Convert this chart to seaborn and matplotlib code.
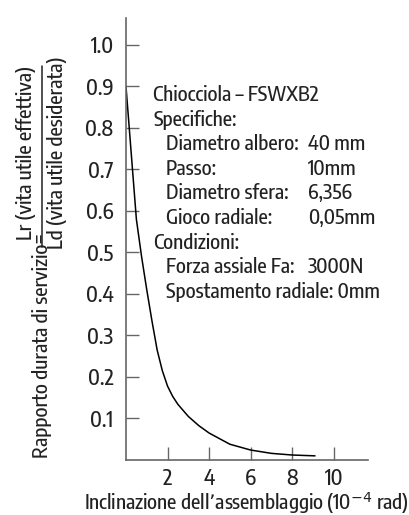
import numpy as np
import pandas as pd
import seaborn as sns
import matplotlib.pyplot as plt
from matplotlib import font_manager, ft2font
from matplotlib.font_manager import FontProperties
from matplotlib.textpath import TextPath
from matplotlib.lines import Line2D

# Curve (inclination in 1e-4 rad, life ratio)
inclination = [0, 0.25, 0.5, 0.75, 1.0, 1.25, 1.5, 1.75, 2.0, 2.25, 2.5, 3.0,
               3.5, 4.0, 5.0, 6.0, 7.0, 8.0, 9.1]
life_ratio = [0.9, 0.74, 0.58, 0.49, 0.41, 0.335, 0.265, 0.215, 0.178, 0.153,
              0.134, 0.105, 0.083, 0.065, 0.038, 0.024, 0.016, 0.012, 0.01]

x_ticks = [2, 4, 6, 8, 10]
y_ticks = [0.1, 0.2, 0.3, 0.4, 0.5, 0.6, 0.7, 0.8, 0.9, 1.0]

# Spec block: (text, value, indented)
spec_labels = ["Chiocciola – FSWXB2", "Specifiche:", "Diametro albero:", "Passo:",
               "Diametro sfera:", "Gioco radiale:", "Condizioni:",
               "Forza assiale Fa:", "Spostamento radiale: 0mm"]
spec_values = ["", "", "40 mm", "10mm", "6,356", "0,05mm", "", "3000N", ""]
spec_indent = [False, False, True, True, True, True, False, True, True]

sns.set_style("ticks")


def wnum(w):
    return w if isinstance(w, int) else font_manager.weight_dict.get(w, 400)


def shape(fname):
    # width of the title line over cap height, at a big size
    fp = FontProperties(fname=fname)
    w = TextPath((0, 0), "Chiocciola – FSWXB2", size=100, prop=fp).get_extents().width
    h = TextPath((0, 0), "H", size=100, prop=fp).get_extents().height
    return w / h, h / 100


# the reference uses a condensed, medium weight face: pick the closest installed one
TARGET = 10.8
cands = [f for f in font_manager.fontManager.ttflist
         if f.stretch == "condensed" and f.style == "normal"
         and 300 <= wnum(f.weight) <= 700 and "CJK" not in f.name]
best, best_score, cap_ratio = None, 1e9, 0.72
for f in cands[:40]:
    try:
        ratio, cap = shape(f.fname)
    except Exception:
        continue
    score = abs(ratio - TARGET) / TARGET + abs(wnum(f.weight) - 500) / 600
    if score < best_score:
        best, best_score, cap_ratio = f, score, cap

if best is not None:
    FP = FontProperties(fname=best.fname)
    fam = best.name
else:
    FP = FontProperties(family="Roboto")
    fam = "Roboto"
plt.rcParams["font.family"] = [fam, "DejaVu Sans"]
plt.rcParams["mathtext.fontset"] = "custom"
plt.rcParams["mathtext.rm"] = fam
plt.rcParams["mathtext.default"] = "rm"

TXT = "#222222"
AXC = "#666666"
W, H = 409, 515
# size so that capitals stand about 15 px tall
FS = 15 / cap_ratio * 0.72

has_sup = False
if best is not None:
    face = ft2font.FT2Font(best.fname)
    has_sup = face.get_char_index(ord("⁴")) and face.get_char_index(ord("⁻"))
xlabel = "Inclinazione dell’assemblaggio (10⁻⁴ rad)" if has_sup else \
    "Inclinazione dell’assemblaggio (10$^{-4}$ rad)"


def px(x, y):
    return x / W, 1 - y / H


def font(size):
    p = FP.copy()
    p.set_size(size)
    return p


fig = plt.figure(figsize=(W / 100, H / 100), dpi=100)
ax = fig.add_axes([126 / W, 55 / H, 242 / W, 442 / H])

df = pd.DataFrame({"incl": inclination, "ratio": life_ratio})
sns.lineplot(data=df, x="incl", y="ratio", color="black", linewidth=1.1, ax=ax)

ax.set_xlim(0, 11.65)
ax.set_ylim(0, 1.065)
ax.set_xticks(x_ticks)
ax.set_yticks(y_ticks)
ax.set_xticklabels([str(t) for t in x_ticks], fontproperties=font(FS * 1.05))
ax.set_yticklabels([f"{t:.1f}" for t in y_ticks], fontproperties=font(FS * 1.05))
ax.tick_params(direction="in", length=9.5, width=1, color=AXC, labelcolor=TXT)
ax.tick_params(axis="x", pad=6)
ax.tick_params(axis="y", pad=9)
sns.despine(ax=ax)
for s in ("left", "bottom"):
    ax.spines[s].set_color(AXC)
    ax.spines[s].set_linewidth(1.2)
ax.set_xlabel(xlabel, fontproperties=font(FS), color=TXT, labelpad=0)
ax.set_ylabel("")

# Composite y label: text + fraction
fig.text(*px(42, 458), "Rapporto durata di servizio=", rotation=90,
         ha="center", va="bottom", fontproperties=font(FS), color=TXT)
fig.text(*px(26, 153), "Lr (vita utile effettiva)", rotation=90,
         ha="center", va="center", fontproperties=font(FS), color=TXT)
fig.text(*px(57, 153), "Ld (vita utile desiderata)", rotation=90,
         ha="center", va="center", fontproperties=font(FS), color=TXT)
x0, y0 = px(42, 247)
x1, y1 = px(42, 66)
fig.add_artist(Line2D([x0, x1], [y0, y1], color=TXT, linewidth=1.1))

# Spec block
top, step = 95, 24.6
for i, (lab, val, ind) in enumerate(zip(spec_labels, spec_values, spec_indent)):
    y = top + i * step
    fig.text(*px(166 if ind else 153, y), lab, ha="left", va="center",
             fontproperties=font(FS), color=TXT)
    if val:
        fig.text(*px(308, y), val, ha="left", va="center",
                 fontproperties=font(FS), color=TXT)

fig.savefig("out.png", dpi=100)
